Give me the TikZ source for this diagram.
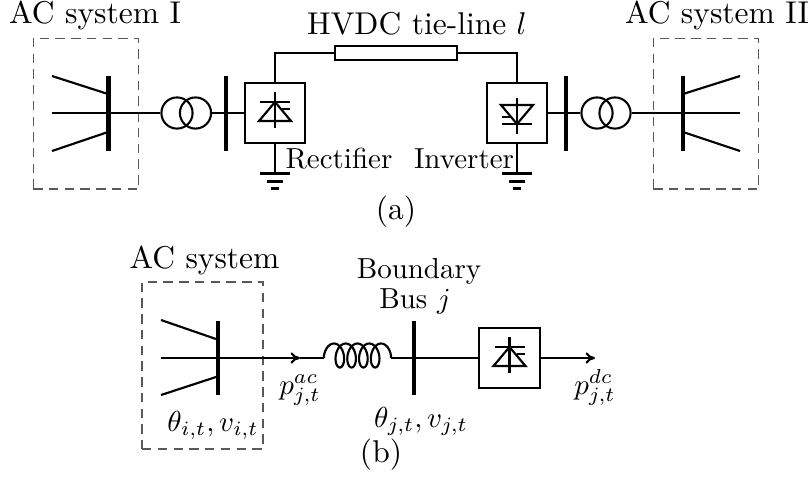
\documentclass[tikz,border=0pt]{standalone}
\usepackage{graphicx}
\usetikzlibrary{arrows.meta}
\newcommand{\smtxt}[1]{\scalebox{.92}{#1}}
\tikzset{
  wire/.style={line width=.68pt},
  thinwire/.style={line width=.42pt},
  bus/.style={fill=black,draw=none,inner sep=0pt,minimum width=1.3pt,minimum height=23.8pt},
  conv/.style={draw=black,line width=.66pt,fill=none,inner sep=0pt,minimum size=19.1pt},
  xfmr/.style={draw=black,line width=.66pt,circle,inner sep=0pt,minimum size=9.9pt},
  zone/.style={draw=black!65,line width=.36pt,dash pattern=on 3pt off 2pt,inner sep=0pt},
  resbox/.style={draw=black,line width=.66pt,inner sep=0pt,minimum width=38.7pt,minimum height=4.7pt},
  lab/.style={anchor=base,inner sep=0pt},
  diode/.pic={
    \draw[wire] (-15,-11) -- (15,-11);
    \draw[wire] (0,-21) -- (0,15);
    \draw[wire] (0,-11) -- (16,8) -- (-16,8) -- cycle;
    \draw[wire] (7,-4) -- (15,-4);
  },
  earth/.pic={
    \draw[wire] (-15,0) -- (15,0);
    \draw[wire] (-8,8) -- (8,8);
    \draw[line width=.8pt] (-4,15) -- (4,15);
  }
}
\begin{document}
\begin{tikzpicture}[x=.3175pt,y=-.3175pt]
\useasboundingbox (0,0) rectangle (812,487);
% --- (a) ---
\node[lab] (lI) at (95,23) {AC system I};
\node[lab] (lII) at (717,23) {AC system II};
\node[lab] (lH) at (417,34) {HVDC tie-line $l$};
\node[lab] (lR) at (339,168.5) {\smtxt{Rectifier}};
\node[lab] (lV) at (464,168.5) {\smtxt{Inverter}};
\node[lab] (la) at (396,219.5) {(a)};
\node[zone,minimum width=33.6pt,minimum height=47.9pt] (zI) at (86,113.5) {};
\node[zone,minimum width=33.6pt,minimum height=47.9pt] (zII) at (706,113.5) {};
\node[bus] (b1) at (108.5,113.5) {};
\node[bus] (b2) at (226,113.5) {};
\node[bus] (b3) at (566,113.5) {};
\node[bus] (b4) at (683,113.5) {};
\node[xfmr] (t1) at (177,113) {};
\node[xfmr] (t2) at (195.5,113) {};
\node[xfmr] (t3) at (597,113) {};
\node[xfmr] (t4) at (615,113) {};
\node[conv] (rec) at (275,113) {};
\node[conv] (inv) at (517,113) {};
\node[resbox] (res) at (396,53) {};
\coordinate (g1a) at (52,76); \coordinate (g1b) at (52,113); \coordinate (g1c) at (52,151);
\coordinate (g1ta) at (108,94); \coordinate (g1tc) at (108,132);
\coordinate (g2a) at (740,76); \coordinate (g2b) at (740,113); \coordinate (g2c) at (740,151);
\coordinate (g2ta) at (683,94); \coordinate (g2tc) at (683,132);
\coordinate (gr) at (275,173.5); \coordinate (gi) at (517,173.5);
\draw[wire] (g1a) -- (g1ta);
\draw[wire] (g1b) -- (b1.center |- g1b);
\draw[wire] (g1c) -- (g1tc);
\draw[wire] (b1.center |- t1.west) -- (t1.west);
\draw[wire] (t2.east) -- (rec.west);
\draw[wire] (inv.east) -- (t3.west);
\draw[wire] (t4.east) -- (b4.center |- t4.east);
\draw[wire] (g2ta) -- (g2a);
\draw[wire] (g2b) -- (b4.center |- g2b);
\draw[wire] (g2tc) -- (g2c);
\draw[wire] (rec.north) |- (res.west);
\draw[wire] (res.east) -| (inv.north);
\draw[wire] (rec.south) -- (gr);
\draw[wire] (inv.south) -- (gi);
\pic at (rec.center) {diode};
\pic[rotate=180] at (inv.center) {diode};
\pic at (gr) {earth};
\pic at (gi) {earth};
% --- (b) ---
\node[lab] (lS) at (204.5,268) {AC system};
\node[lab] (lB) at (419,278) {\smtxt{Boundary}};
\node[lab] (lJ) at (415,308) {\smtxt{Bus $j$}};
\node[lab] (lb) at (381,462) {(b)};
\node[zone,minimum width=38.4pt,minimum height=53pt] (zB) at (202.5,365.5) {};
\node[bus] (b5) at (218,358) {};
\node[bus] (b6) at (414,358) {};
\node[conv] (rb) at (509.5,358) {};
\coordinate (h1a) at (161,320); \coordinate (h1b) at (161,358); \coordinate (h1c) at (161,395);
\coordinate (h1ta) at (216,339); \coordinate (h1tc) at (216,377);
\coordinate (arr) at (300,358); \coordinate (ls) at (324,358); \coordinate (le) at (391,358);
\coordinate (out) at (595,358);
\draw[wire] (h1a) -- (h1ta);
\draw[wire] (h1c) -- (h1tc);
\draw[wire,-{To[length=3pt,width=3.6pt]}] (h1b) -- (arr);
\draw[thinwire] (arr) -- (ls);
\draw[thinwire] (le) -- (b6.center);
\draw[wire] (b6.center) -- (rb.west);
\draw[wire,-{To[length=3pt,width=3.6pt]}] (rb.east) -- (out);
\draw[wire] (ls) -- plot[smooth,samples=160,domain=0:1620,variable=\t]
  ({324+0.0327*\t+7*(1-cos(\t))},{355.5-12*sin(\t)}) -- (le);
\pic at (rb.center) {diode};
\node[lab] (pac) at (300,394) {\smtxt{$p^{ac}_{j,t}$}};
\node[lab] (pdc) at (595,394) {\smtxt{$p^{dc}_{j,t}$}};
\node[lab] (th1) at (213,431) {\smtxt{$\theta_{i,t},v_{i,t}$}};
\node[lab] (th2) at (421,427) {\smtxt{$\theta_{j,t},v_{j,t}$}};
\end{tikzpicture}
\end{document}
